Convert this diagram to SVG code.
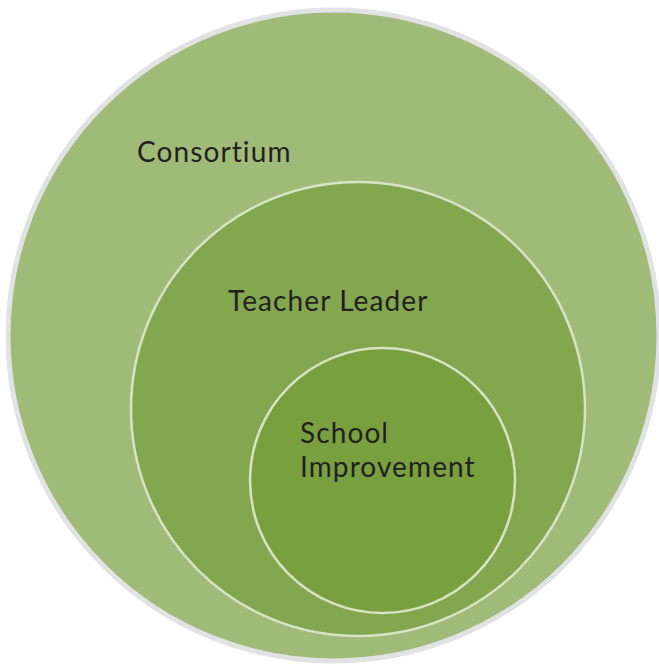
<svg xmlns="http://www.w3.org/2000/svg" width="659" height="664" viewBox="0 0 659 664">
  <style>
    .label { font-family: Lato, "Open Sans", "Liberation Sans", sans-serif; font-size: 28px; letter-spacing: 1.1px; fill: #231f20; }
    .ring { stroke: #d7e3c6; stroke-width: 2.5; }
  </style>
  <rect width="659" height="664" fill="#ffffff"/>
  <g id="consortium">
    <circle cx="333.5" cy="335.5" r="325.5" fill="#a0bb78" stroke="#e1e2e4" stroke-width="5"/>
    <text class="label" x="137" y="162">Consortium</text>
  </g>
  <g id="teacher-leader">
    <circle class="ring" cx="358" cy="409" r="227" fill="#83a74e"/>
    <text class="label" x="228" y="311">Teacher Leader</text>
  </g>
  <g id="school-improvement">
    <circle class="ring" cx="382.5" cy="480.5" r="132.5" fill="#79a03e"/>
    <text class="label" x="300" y="443"><tspan x="300" y="443">School</tspan><tspan x="300" y="477">Improvement</tspan></text>
  </g>
</svg>
